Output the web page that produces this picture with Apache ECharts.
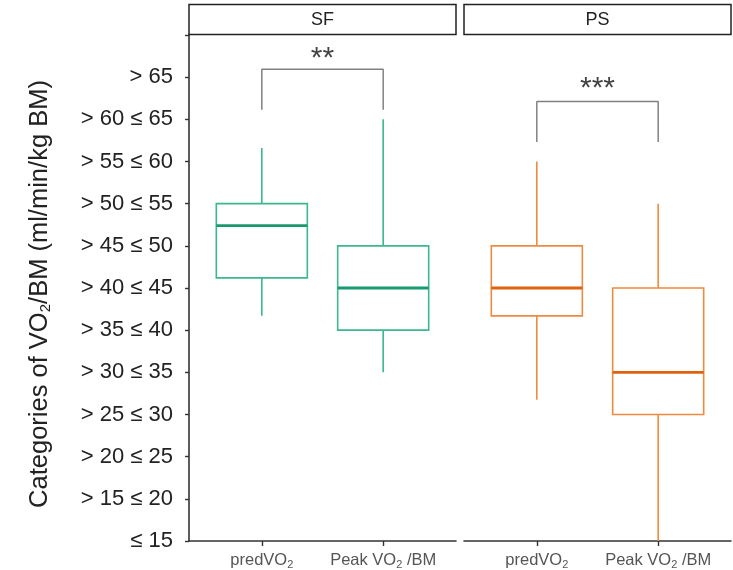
<!DOCTYPE html>
<html><head><meta charset="utf-8">
<script src="https://cdn.jsdelivr.net/npm/echarts@6/dist/echarts.min.js"></script>
<style>html,body{margin:0;padding:0;background:#fff}#c{width:733px;height:570px}</style>
</head><body><div id="c"></div>
<script>
// y categories (index 0 at bottom)
const yCategories = ['≤ 15','> 15 ≤ 20','> 20 ≤ 25','> 25 ≤ 30','> 30 ≤ 35','> 35 ≤ 40','> 40 ≤ 45','> 45 ≤ 50','> 50 ≤ 55','> 55 ≤ 60','> 60 ≤ 65','> 65'];
const panelNames = ['SF', 'PS'];
const measureLabels = ['predVO{s|2}', 'Peak VO{s|2} /BM'];
const measurePos = [1, 2];
// [lower whisker, Q1, median, Q3, upper whisker] in category-index units
const sfPred = [5.34, 6.24, 7.48, 8.0, 9.32];
const sfPeak = [4.0, 5.0, 6.0, 7.0, 10.0];
const psPred = [3.35, 5.34, 6.0, 7.0, 9.0];
const psPeak = [0.0, 3.0, 4.0, 6.0, 8.0];
// significance brackets: [from, to, leg bottom, bracket top]
const sfBracket = [1, 2, 10.23, 11.19];
const psBracket = [1, 2, 9.46, 10.42];
const sfStars = ['**', 11.44];
const psStars = ['***', 10.73];

const GREEN = '#3bb88e', GREEN_MED = '#179a6c';
const ORANGE = '#ef8b40', ORANGE_MED = '#e0620e';
const FONT = 'Liberation Sans, Arial, sans-serif';

function boxRenderer(edge, medColor) {
  return function (params, api) {
    const x = api.value(0);
    const lo = api.coord([x, api.value(1)]);
    const q1 = api.coord([x, api.value(2)]);
    const md = api.coord([x, api.value(3)]);
    const q3 = api.coord([x, api.value(4)]);
    const hi = api.coord([x, api.value(5)]);
    const w = api.size([0.75, 0])[0];
    const cx = q1[0];
    const st = { stroke: edge, lineWidth: 1.6, fill: null };
    return {
      type: 'group',
      children: [
        { type: 'line', shape: { x1: cx, y1: q3[1], x2: cx, y2: hi[1] }, style: st },
        { type: 'line', shape: { x1: cx, y1: q1[1], x2: cx, y2: lo[1] }, style: st },
        { type: 'rect', shape: { x: cx - w / 2, y: q3[1], width: w, height: q1[1] - q3[1] }, style: { stroke: edge, lineWidth: 1.6, fill: '#fff' } },
        { type: 'line', shape: { x1: cx - w / 2, y1: md[1], x2: cx + w / 2, y2: md[1] }, style: { stroke: medColor, lineWidth: 2.8 } }
      ]
    };
  };
}

const chart = echarts.init(document.getElementById('c'), null, { renderer: 'canvas' });
const gridTop = 35, gridH = 507, gridW = 267;
const grids = [
  { left: 189, top: gridTop, width: gridW, height: gridH },
  { left: 464, top: gridTop, width: gridW, height: gridH }
];
const xAxes = [0, 1].map(i => ({
  type: 'value', gridIndex: i, min: 0.4, max: 2.6,
  axisLine: { show: true, lineStyle: { color: '#333', width: 1.6 } },
  axisTick: { show: true, customValues: measurePos, length: 5, lineStyle: { color: '#333', width: 1.4 } },
  axisLabel: {
    customValues: measurePos, margin: 9,
    formatter: v => measureLabels[measurePos.indexOf(v)] || '',
    color: '#555', fontSize: 16.5, fontFamily: FONT,
    rich: { s: { fontSize: 11, padding: [9, 0, 0, 0], color: '#555', fontFamily: FONT } }
  },
  splitLine: { show: false }
}));
const yAxes = [0, 1].map(i => ({
  type: 'value', gridIndex: i, min: 0, max: 12, interval: 1,
  axisLine: { show: i === 0, lineStyle: { color: '#333', width: 1.6 } },
  axisTick: { show: i === 0, length: 4, lineStyle: { color: '#333', width: 1.4 } },
  axisLabel: {
    show: i === 0, margin: 16,
    formatter: v => yCategories[v] || '',
    color: '#222', fontSize: 22, fontFamily: FONT
  },
  splitLine: { show: false },
  name: i === 0 ? 'Categories of VO{s|2}/BM (ml/min/kg BM)' : '',
  nameLocation: 'middle', nameRotate: 90, nameGap: 136,
  nameTextStyle: {
    fontSize: 25.5, color: '#222', fontFamily: FONT, padding: [0, 12, 0, 0],
    rich: { s: { fontSize: 15, padding: [12, 0, 0, 0], color: '#222', fontFamily: FONT } }
  }
}));

function boxSeries(i, boxes, edge, med) {
  return {
    type: 'custom', xAxisIndex: i, yAxisIndex: i,
    renderItem: boxRenderer(edge, med),
    data: boxes.map((b, k) => [measurePos[k]].concat(b)),
    encode: { x: 0, y: [1, 2, 3, 4, 5] }, clip: false, z: 3
  };
}
function bracketSeries(i, br) {
  return {
    type: 'line', xAxisIndex: i, yAxisIndex: i, symbol: 'none', silent: true,
    lineStyle: { color: '#808080', width: 1.5 },
    data: [[br[0], br[2]], [br[0], br[3]], [br[1], br[3]], [br[1], br[2]]], z: 4
  };
}
function starSeries(i, br, stars) {
  return {
    type: 'scatter', xAxisIndex: i, yAxisIndex: i, symbolSize: 0, silent: true,
    data: [[(br[0] + br[1]) / 2, stars[1]]],
    label: { show: true, position: 'inside', formatter: stars[0], fontSize: 30, color: '#111', fontFamily: FONT }
  };
}

const headerGraphics = [];
grids.forEach((g, i) => {
  headerGraphics.push({
    type: 'rect', shape: { x: g.left, y: 4.5, width: g.width, height: 30 },
    style: { fill: '#fff', stroke: '#222', lineWidth: 1.5 }, z: 10
  });
  headerGraphics.push({
    type: 'text', x: g.left + g.width / 2, y: 20,
    style: { text: panelNames[i], fill: '#222', font: '18px ' + FONT, align: 'center', verticalAlign: 'middle' }, z: 11
  });
});

chart.setOption({
  animation: false,
  backgroundColor: '#fff',
  grid: grids,
  xAxis: xAxes,
  yAxis: yAxes,
  graphic: headerGraphics,
  series: [
    boxSeries(0, [sfPred, sfPeak], GREEN, GREEN_MED),
    boxSeries(1, [psPred, psPeak], ORANGE, ORANGE_MED),
    bracketSeries(0, sfBracket),
    bracketSeries(1, psBracket),
    starSeries(0, sfBracket, sfStars),
    starSeries(1, psBracket, psStars)
  ]
});
</script>
</body></html>
